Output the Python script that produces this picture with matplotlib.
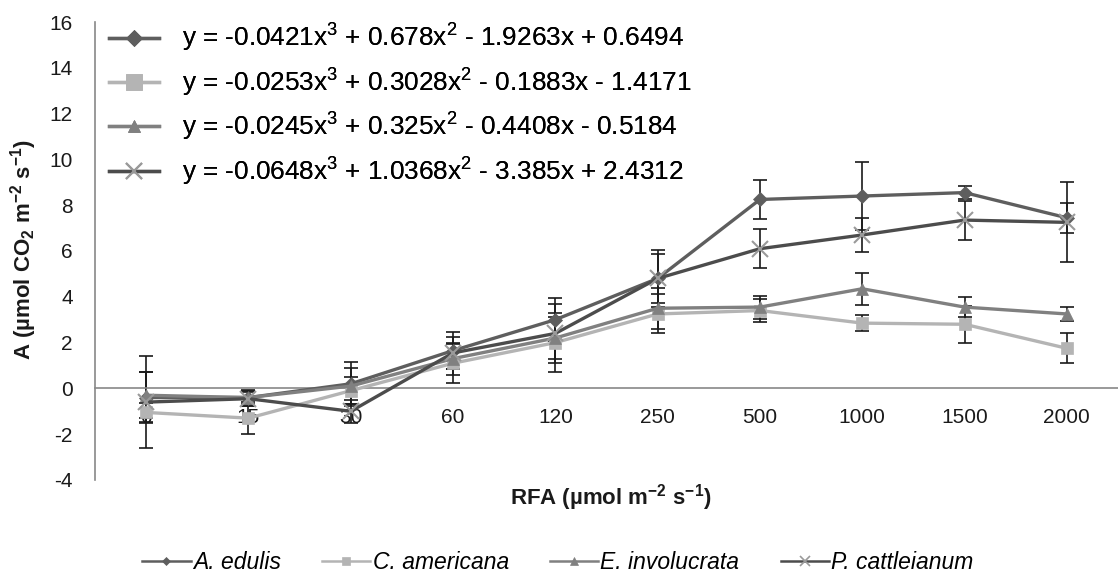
import matplotlib
matplotlib.use("Agg")
import matplotlib.pyplot as plt
from matplotlib.lines import Line2D
import numpy as np

plt.rcParams['font.family'] = ['Liberation Sans', 'DejaVu Sans']
plt.rcParams['mathtext.fontset'] = 'custom'
plt.rcParams['mathtext.rm'] = 'Liberation Sans'
plt.rcParams['mathtext.it'] = 'Liberation Sans:italic'
plt.rcParams['mathtext.bf'] = 'Liberation Sans:bold'
plt.rcParams['axes.unicode_minus'] = False

categories = ['0', '15', '30', '60', '120', '250', '500', '1000', '1500', '2000']

species = ['A. edulis', 'C. americana', 'E. involucrata', 'P. cattleianum']

a_edulis = [-0.4, -0.4, 0.2, 1.65, 3.0, 4.8, 8.25, 8.4, 8.55, 7.45]
a_edulis_err = [1.1, 0.35, 0.95, 0.8, 0.95, 1.25, 0.85, 1.5, 0.3, 0.65]

c_americana = [-1.05, -1.3, -0.1, 1.1, 2.0, 3.25, 3.4, 2.85, 2.8, 1.75]
c_americana_err = [0.4, 0.7, 0.6, 0.85, 1.3, 0.85, 0.5, 0.35, 0.8, 0.65]

e_involucrata = [-0.3, -0.4, 0.1, 1.3, 2.2, 3.5, 3.55, 4.35, 3.55, 3.25]
e_involucrata_err = [1.0, 0.3, 0.8, 0.7, 0.9, 0.9, 0.5, 0.7, 0.45, 0.3]

p_cattleianum = [-0.6, -0.45, -1.0, 1.55, 2.4, 4.8, 6.1, 6.7, 7.35, 7.25]
p_cattleianum_err = [2.0, 0.3, 0.5, 0.7, 1.3, 1.05, 0.85, 0.75, 0.85, 1.75]

equations = [
    r"y = -0.0421x$^3$ + 0.678x$^2$ - 1.9263x + 0.6494",
    r"y = -0.0253x$^3$ + 0.3028x$^2$ - 0.1883x - 1.4171",
    r"y = -0.0245x$^3$ + 0.325x$^2$ - 0.4408x - 0.5184",
    r"y = -0.0648x$^3$ + 1.0368x$^2$ - 3.385x + 2.4312",
]

series = [a_edulis, c_americana, e_involucrata, p_cattleianum]
errors = [a_edulis_err, c_americana_err, e_involucrata_err, p_cattleianum_err]
line_colors = ['#5e5e5e', '#b4b4b4', '#808080', '#4c4c4c']
marker_colors = ['#5e5e5e', '#b4b4b4', '#808080', '#9a9a9a']
markers = ['D', 's', '^', 'x']
msizes = [7, 9, 8, 12]

fig = plt.figure(figsize=(11.18, 5.76), dpi=100)
ax = fig.add_axes([0.085, 0.1667, 0.915, 0.7951])

x = np.arange(len(categories))
for vals, errs, lc, mc, mk, ms in zip(series, errors, line_colors,
                                      marker_colors, markers, msizes):
    ax.errorbar(x, vals, yerr=errs, fmt='none', ecolor='#1a1a1a',
                elinewidth=1.2, capsize=5, capthick=1.2, zorder=2)
    ax.plot(x, vals, color=lc, lw=2.4, marker=mk, markersize=ms,
            markeredgewidth=1.5 if mk == 'x' else 0.5,
            markeredgecolor=mc, markerfacecolor=mc, zorder=3)

ax.set_xlim(-0.5, len(categories) - 0.5)
ax.set_ylim(-4, 16)
ax.set_yticks(np.arange(-4, 17, 2))
ax.set_xticks(x)
ax.set_xticklabels(categories)

for s in ['top', 'right']:
    ax.spines[s].set_visible(False)
ax.spines['bottom'].set_position(('data', 0))
ax.spines['bottom'].set_color('#888888')
ax.spines['left'].set_color('#888888')
ax.spines['bottom'].set_linewidth(1.2)
ax.spines['left'].set_linewidth(1.2)
ax.tick_params(axis='x', length=0, pad=14, labelsize=15, colors='#1a1a1a')
ax.tick_params(axis='y', length=0, pad=16, labelsize=15, colors='#1a1a1a')

fig.text(0.5465, 0.137, r"RFA (µmol m$^\mathbf{-2}$ s$^\mathbf{-1}$)",
         ha='center', va='center', fontsize=16, fontweight='bold', color='#1a1a1a')
fig.text(0.0215, 0.566, r"A (µmol CO$_\mathbf{2}$ m$^\mathbf{-2}$ s$^\mathbf{-1}$)",
         ha='center', va='center', rotation=90, fontsize=16, fontweight='bold',
         color='#1a1a1a')

eq_msizes = [8, 12, 8, 12]
handles = [Line2D([], [], color=lc, lw=2.4, marker=m, markersize=s,
                  markeredgewidth=1.5 if m == 'x' else 0.5,
                  markeredgecolor=mc, markerfacecolor=mc)
           for lc, mc, m, s in zip(line_colors, marker_colors, markers, eq_msizes)]

eq_leg = ax.legend(handles, equations, loc='upper left',
                   bbox_to_anchor=(0.0975, 0.962), bbox_transform=fig.transFigure,
                   frameon=False, fontsize=18.8,
                   handlelength=1.9, handletextpad=0.9, labelspacing=0.47,
                   borderaxespad=0, borderpad=0)
ax.add_artist(eq_leg)

small_handles = [Line2D([], [], color=lc, lw=1.8, marker=m,
                        markersize=s * 0.65,
                        markeredgewidth=1.2 if m == 'x' else 0.5,
                        markeredgecolor=mc, markerfacecolor=mc)
                 for lc, mc, m, s in zip(line_colors, marker_colors, markers, msizes)]
fig.legend(small_handles, species, loc='center', bbox_to_anchor=(0.499, 0.0226),
           ncol=4, frameon=False, prop={'style': 'italic', 'size': 16.5},
           handlelength=2.1, handletextpad=0.1, columnspacing=1.8,
           borderpad=0, borderaxespad=0)

fig.savefig('out.png', dpi=100)
